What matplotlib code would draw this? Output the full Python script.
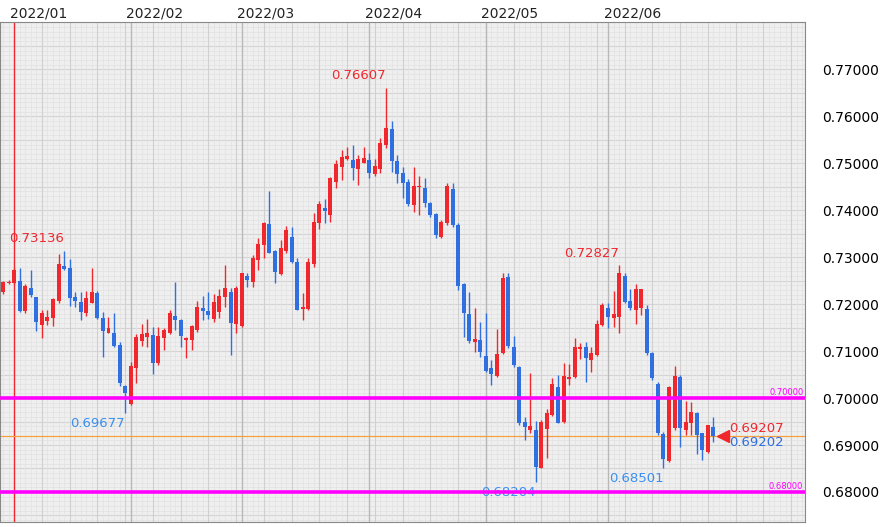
import matplotlib
matplotlib.use("Agg")
import matplotlib.pyplot as plt
from matplotlib.ticker import MultipleLocator

opens = [0.7226,0.7245,0.7245,0.7249,0.7185,0.7234,0.7215,0.7155,0.7164,0.7170,
0.7207,0.7281,0.7277,0.7215,0.7204,0.7181,0.7202,0.7224,0.7170,0.7138,
0.7138,0.7113,0.7026,0.6987,0.7064,0.7121,0.7130,0.7134,0.7075,0.7128,
0.7138,0.7175,0.7166,0.7124,0.7124,0.7145,0.7192,0.7185,0.7168,0.7183,
0.7215,0.7226,0.7158,0.7153,0.7260,0.7247,0.7294,0.7326,0.7371,0.7313,
0.7264,0.7313,0.7343,0.7290,0.7190,0.7190,0.7285,0.7373,0.7405,0.7390,
0.7460,0.7492,0.7509,0.7507,0.7488,0.7501,0.7507,0.7477,0.7488,0.7539,
0.7573,0.7505,0.7479,0.7460,0.7411,0.7449,0.7447,0.7415,0.7392,0.7343,
0.7373,0.7445,0.7369,0.7243,0.7179,0.7119,0.7124,0.7089,0.7064,0.7047,
0.7096,0.7258,0.7109,0.7066,0.6949,0.6932,0.6932,0.6851,0.6934,0.6964,
0.7023,0.6949,0.7040,0.7045,0.7104,0.7109,0.7081,0.7092,0.7155,0.7192,
0.7170,0.7173,0.7260,0.7207,0.7187,0.7192,0.7190,0.7096,0.7030,0.6923,
0.6866,0.6936,0.7045,0.6932,0.6947,0.6968,0.6925,0.6885,0.6938]
highs = [0.7250,0.7251,0.7277,0.7277,0.7243,0.7273,0.7215,0.7187,0.7187,0.7213,
0.7307,0.73136,0.7296,0.7226,0.7226,0.7228,0.7277,0.7228,0.7183,0.7173,
0.7181,0.7119,0.7028,0.7077,0.7136,0.7158,0.7168,0.7151,0.7151,0.7149,
0.7187,0.7247,0.7168,0.7130,0.7155,0.7207,0.7217,0.7226,0.7222,0.7232,
0.7283,0.7234,0.7239,0.7266,0.7266,0.7305,0.7341,0.7375,0.7441,0.7315,
0.7337,0.7366,0.7364,0.7298,0.7224,0.7298,0.7394,0.7420,0.7424,0.7471,
0.7507,0.7528,0.7535,0.7539,0.7518,0.7535,0.7522,0.7509,0.7554,0.76607,
0.7590,0.7518,0.7492,0.7466,0.7492,0.7473,0.7469,0.7417,0.7394,0.7379,
0.7458,0.7458,0.7373,0.7245,0.7226,0.7192,0.7162,0.7181,0.7081,0.7147,
0.7266,0.7266,0.7132,0.7068,0.6960,0.7053,0.6951,0.6953,0.6977,0.7043,
0.7049,0.7075,0.7072,0.7128,0.7117,0.7119,0.7109,0.7166,0.7202,0.7202,
0.7228,0.72827,0.7266,0.7232,0.7243,0.7232,0.7198,0.7098,0.7034,0.6928,
0.7026,0.7068,0.7049,0.6994,0.6991,0.6970,0.6925,0.6942,0.6960]
lows = [0.7222,0.7243,0.7243,0.7183,0.7181,0.7215,0.7143,0.7128,0.7155,0.7153,
0.7202,0.7273,0.7196,0.7194,0.7166,0.7175,0.7202,0.7168,0.7087,0.7138,
0.7109,0.7026,0.69677,0.6985,0.7032,0.7111,0.7109,0.7051,0.7070,0.7102,
0.7136,0.7145,0.7109,0.7085,0.7102,0.7141,0.7166,0.7168,0.7162,0.7170,
0.7194,0.7092,0.7138,0.7151,0.7236,0.7236,0.7273,0.7298,0.7309,0.7245,
0.7262,0.7309,0.7288,0.7187,0.7166,0.7187,0.7279,0.7360,0.7373,0.7375,
0.7447,0.7464,0.7507,0.7464,0.7454,0.7501,0.7469,0.7473,0.7479,0.7533,
0.7481,0.7458,0.7426,0.7409,0.7396,0.7390,0.7407,0.7386,0.7341,0.7341,
0.7369,0.7364,0.7230,0.7130,0.7117,0.7098,0.7087,0.7055,0.7028,0.7045,
0.7094,0.7107,0.7066,0.6942,0.6911,0.6925,0.68204,0.6851,0.6872,0.6962,
0.6947,0.6947,0.7028,0.7043,0.7083,0.7034,0.7055,0.7089,0.7153,0.7149,
0.7151,0.7138,0.7202,0.7187,0.7158,0.7177,0.7092,0.7038,0.6921,0.68501,
0.6864,0.6932,0.6896,0.6921,0.6921,0.6881,0.6868,0.6883,0.6906]
closes = [0.7247,0.7248,0.7273,0.7185,0.7239,0.7219,0.7162,0.7181,0.7173,0.7211,
0.7285,0.7275,0.7213,0.7207,0.7183,0.7213,0.7226,0.7170,0.7143,0.7149,
0.7111,0.7032,0.7011,0.7068,0.7130,0.7136,0.7138,0.7075,0.7132,0.7145,
0.7181,0.7166,0.7132,0.7128,0.7153,0.7194,0.7185,0.7177,0.7204,0.7217,
0.7234,0.7160,0.7234,0.7266,0.7251,0.7298,0.7328,0.7373,0.7309,0.7268,
0.7320,0.7358,0.7290,0.7187,0.7194,0.7290,0.7375,0.7413,0.7398,0.7469,
0.7498,0.7513,0.7515,0.7490,0.7509,0.7511,0.7479,0.7494,0.7543,0.7575,
0.7505,0.7477,0.7458,0.7413,0.7452,0.7452,0.7415,0.7390,0.7347,0.7375,
0.7452,0.7369,0.7239,0.7181,0.7121,0.7126,0.7098,0.7058,0.7051,0.7094,
0.7256,0.7111,0.7070,0.6947,0.6938,0.6940,0.6853,0.6949,0.6968,0.7030,
0.6947,0.7047,0.7045,0.7109,0.7109,0.7085,0.7096,0.7158,0.7198,0.7173,
0.7179,0.7266,0.7204,0.7192,0.7232,0.7232,0.7096,0.7043,0.6925,0.6870,
0.7023,0.7047,0.6936,0.6949,0.6970,0.6921,0.6889,0.6942,0.69202]

month_labels = ["2022/01","2022/02","2022/03","2022/04","2022/05","2022/06"]
month_idx = [2, 23, 43, 66, 87, 109]
yticks = [0.68,0.69,0.70,0.71,0.72,0.73,0.74,0.75,0.76,0.77]
h_lines = [0.70, 0.68]
bid, ask = 0.69202, 0.69207
hi_marks = [(11, 0.73136), (69, 0.76607), (111, 0.72827)]
lo_marks = [(22, 0.69677), (96, 0.68204), (119, 0.68501)]

RED = "#f0282d"; BLUE = "#2f6fe0"
fig = plt.figure(figsize=(8.9, 5.27), dpi=100)
ax = fig.add_axes([0.0, 5/527, 805/890, 500/527])
ax.set_facecolor("#efefef")
n = len(opens)
ax.set_xlim(-0.55, 144.5)
ax.set_ylim(0.6736, 0.7801)

# grid
for y in [v/1000 for v in range(674, 781)]:
    ax.axhline(y, color="#e2e2e2", lw=0.5, zorder=0)
for y in [v/200 for v in range(135, 157)]:
    ax.axhline(y, color="#d4d4d4", lw=0.8, zorder=0)
for x in range(-1, 146):
    ax.axvline(x, color="#e2e2e2", lw=0.5, zorder=0)
for x in range(2, 146, 5):
    ax.axvline(x, color="#d0d0d0", lw=0.8, zorder=0)
for x in month_idx[1:]:
    ax.axvline(x, color="#b8b8b8", lw=1.0, zorder=0)
ax.axvline(month_idx[0], color=RED, lw=1.0, zorder=1)

for i in range(n):
    o, h, l, c = opens[i], highs[i], lows[i], closes[i]
    col = RED if c >= o else BLUE
    ax.vlines(i, l, h, color=col, lw=1.0, zorder=3)
    ax.bar(i, max(abs(c-o), 0.00006), bottom=min(o, c), width=0.72, color=col, zorder=4)

for y in h_lines:
    ax.axhline(y, color="#ff00ff", lw=2.6, zorder=5)
    ax.text(144.2, y+0.0003, f"{y:.5f}", color="#ff00ff", fontsize=6, ha="right", va="bottom")
ax.axhline(bid, color="#f5a040", lw=0.9, zorder=2)
ax.plot([n+0.7], [bid], marker="<", color=RED, ms=8, zorder=6)
ax.text(n+1.9, ask+0.0001, f"{ask:.5f}", color=RED, fontsize=9.5, va="bottom")
ax.text(n+1.9, bid-0.0001, f"{bid:.5f}", color=BLUE, fontsize=9.5, va="top")

for i, v in hi_marks:
    ax.text(i, v+0.0012, f"{v:.5f}", color=RED, fontsize=9.5, ha="right", va="bottom")
for i, v in lo_marks:
    ax.text(i, v-0.0008, f"{v:.5f}", color="#3a8ff0", fontsize=9.5, ha="right", va="top")

ax.yaxis.tick_right()
ax.set_yticks(yticks)
ax.set_yticklabels([f"{v:.5f}" for v in yticks], fontsize=10)
ax.tick_params(axis="y", length=0, pad=12)
ax.set_xticks([])
for x, lab in zip(month_idx, month_labels):
    ax.text(x - 0.8, 1.003, lab, transform=ax.get_xaxis_transform(), fontsize=10,
            ha="left", va="bottom", color="#222222")
for s in ax.spines.values():
    s.set_color("#888888")
fig.savefig("out.png", dpi=100)
